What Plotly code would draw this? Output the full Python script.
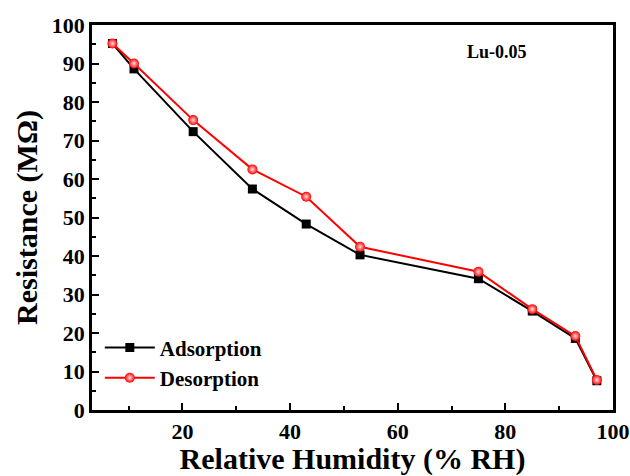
import plotly.graph_objects as go

rh = [7, 11, 22, 33, 43, 53, 75, 85, 93, 97]
adsorption = [95.2, 88.6, 72.3, 57.4, 48.3, 40.3, 34.1, 25.7, 18.6, 7.6]
desorption = [95.2, 90.0, 75.3, 62.5, 55.4, 42.4, 35.9, 26.2, 19.2, 7.8]

FONT = "Liberation Serif"

fig = go.Figure()
fig.add_trace(go.Scatter(
    x=rh, y=adsorption, mode="lines+markers", name="<b>Adsorption</b>",
    line=dict(color="black", width=2),
    marker=dict(symbol="square", size=9, color="black"),
))
fig.add_trace(go.Scatter(
    x=rh, y=desorption, mode="lines+markers", name="<b>Desorption</b>",
    line=dict(color="#ff0000", width=2),
    marker=dict(symbol="circle", size=10, color="#ff0000",
                gradient=dict(type="radial", color="#ffe0e0")),
))

fig.add_annotation(text="<b>Lu-0.05</b>", xref="x domain", yref="y domain",
                   x=(497 - 92) / 521, y=(410 - 52) / 385,
                   xanchor="center", yanchor="middle",
                   showarrow=False, font=dict(family=FONT, size=18, color="black"))

axis_common = dict(
    showline=True, linecolor="black", linewidth=2.5, mirror=True,
    ticks="inside", ticklen=7, tickwidth=2, tickcolor="black",
    showgrid=False, zeroline=False, automargin=False,
    tickfont=dict(family=FONT, size=22, color="black", weight="bold"),
)

fig.update_xaxes(**axis_common, range=[3.2, 100], tick0=0, dtick=20,
                 minor=dict(ticks="inside", ticklen=4, tickwidth=2, tickcolor="black", dtick=10, tick0=0, showgrid=False),
                 title=dict(text="<b>Relative Humidity (% RH)</b>", font=dict(family=FONT, size=30, color="black"), standoff=8))
fig.update_yaxes(**axis_common, range=[0, 100], tick0=0, dtick=10,
                 minor=dict(ticks="inside", ticklen=4, tickwidth=2, tickcolor="black", dtick=5, tick0=0, showgrid=False),
                 title=dict(text="<b>Resistance (MΩ)</b>", font=dict(family=FONT, size=30, color="black"), standoff=6))

fig.update_layout(
    width=630, height=476,
    margin=dict(l=92, r=17, t=25, b=66),
    plot_bgcolor="white", paper_bgcolor="white",
    showlegend=True,
    legend=dict(x=0.015, y=0.215, xanchor="left", yanchor="top",
                font=dict(family=FONT, size=21, color="black"),
                bgcolor="rgba(0,0,0,0)", itemwidth=50, tracegroupgap=0),
)

fig.write_html("out.html")
